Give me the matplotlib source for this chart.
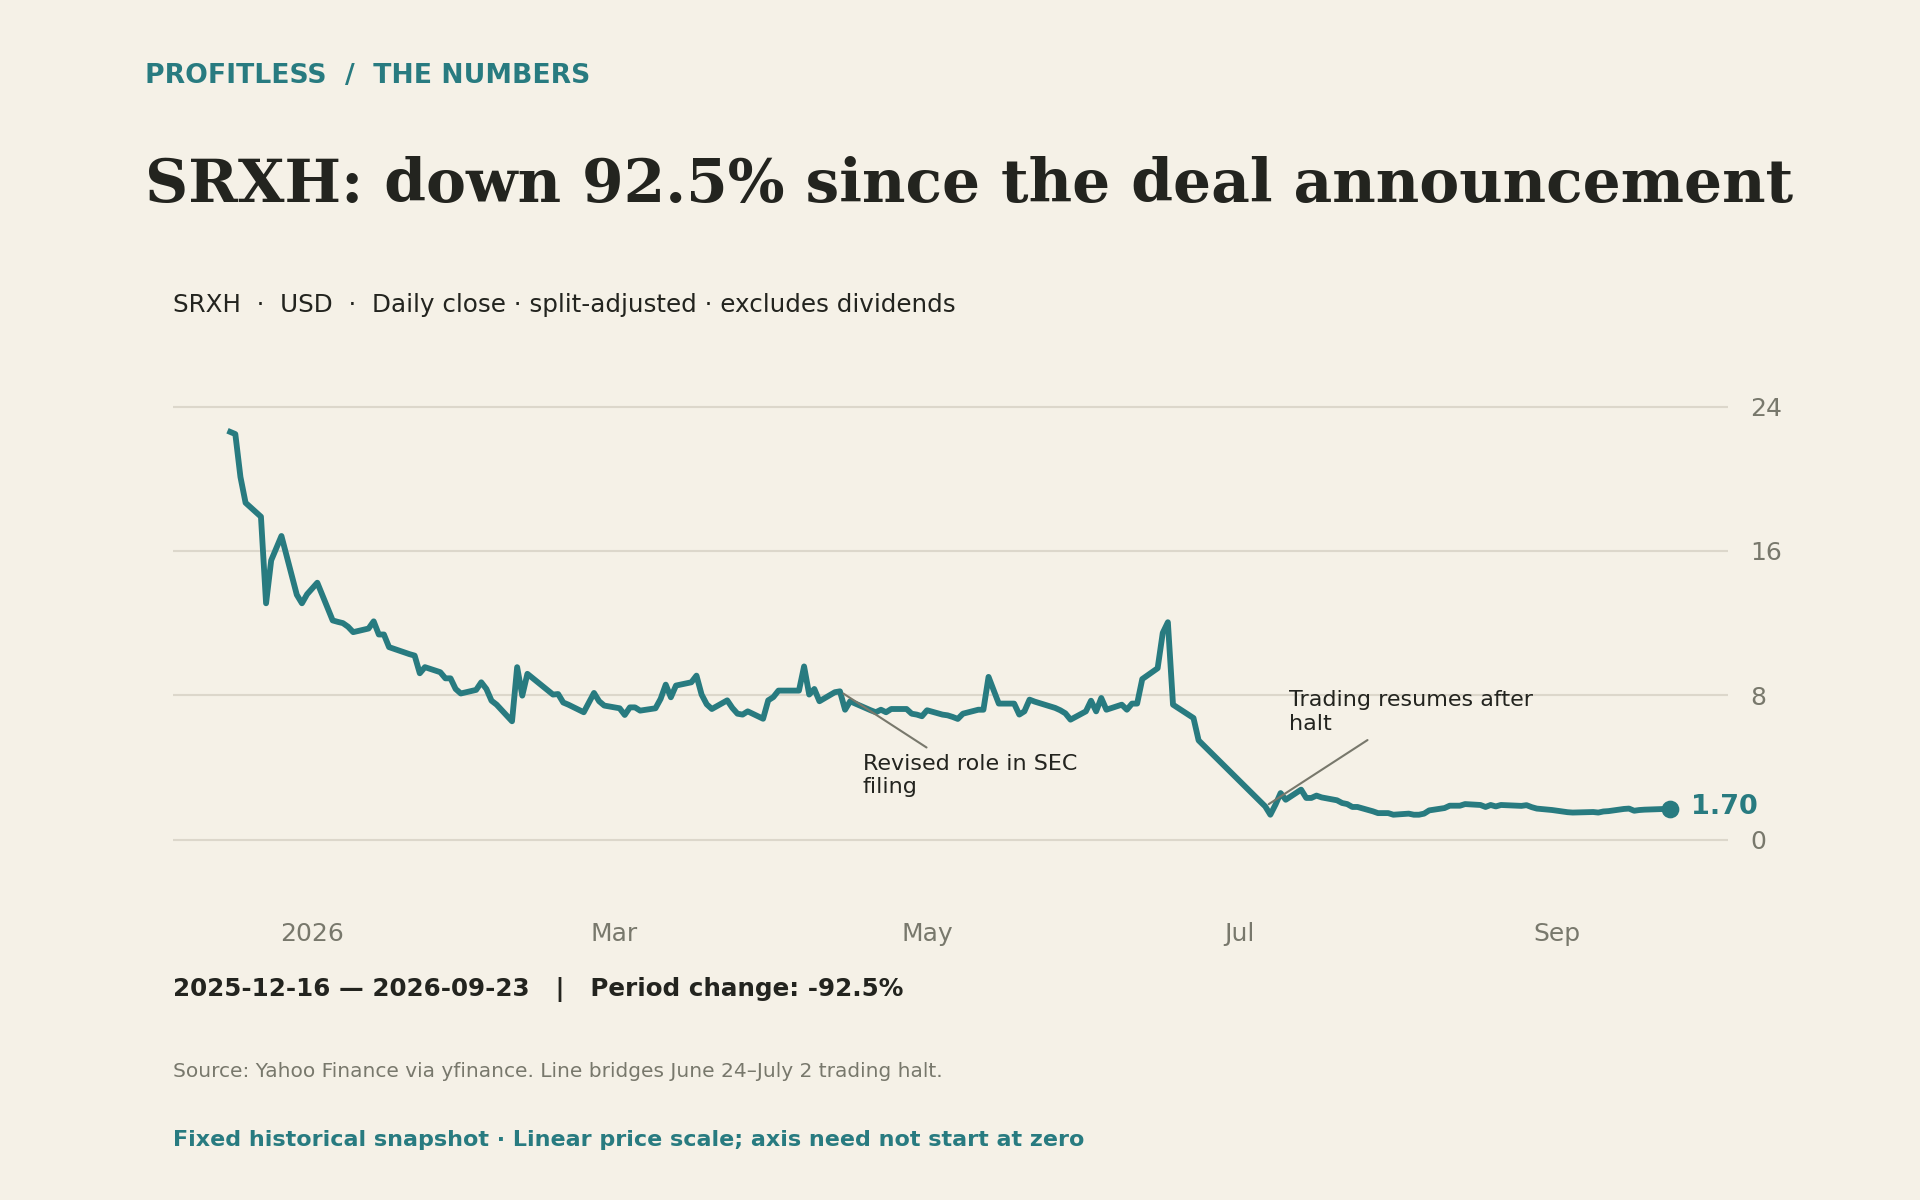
import matplotlib
matplotlib.use('Agg')
import matplotlib.pyplot as plt
import matplotlib.ticker as mticker
import pandas as pd

# colours
BG = '#f5f1e7'
TEAL = '#287b80'
DARK = '#23241f'
GRAY = '#78786c'
GRID = '#dcd7cb'

# trading days per month (holidays and the Jun 24 - Jul 2 halt left out)
dec_days = [16, 17, 18, 19, 22, 23, 24, 26, 29, 30, 31]
jan_days = [2, 5, 6, 7, 8, 9, 12, 13, 14, 15, 16, 20, 21, 22, 23, 26, 27, 28, 29, 30]
feb_days = [2, 3, 4, 5, 6, 9, 10, 11, 12, 13, 17, 18, 19, 20, 23, 24, 25, 26, 27]
mar_days = [2, 3, 4, 5, 6, 9, 10, 11, 12, 13, 16, 17, 18, 19, 20, 23, 24, 25, 26, 27, 30, 31]
apr_days = [1, 2, 6, 7, 8, 9, 10, 13, 14, 15, 16, 17, 20, 21, 22, 23, 24, 27, 28, 29, 30]
may_days = [1, 4, 5, 6, 7, 8, 11, 12, 13, 14, 15, 18, 19, 20, 21, 22, 26, 27, 28, 29]
jun_days = [1, 2, 3, 4, 5, 8, 9, 10, 11, 12, 15, 16, 17, 18, 22, 23]
jul_days = [6, 7, 8, 9, 10, 13, 14, 15, 16, 17, 20, 21, 22, 23, 24, 27, 28, 29, 30, 31]
aug_days = [3, 4, 5, 6, 7, 10, 11, 12, 13, 14, 17, 18, 19, 20, 21, 24, 25, 26, 27, 28, 31]
sep_days = [1, 2, 3, 4, 8, 9, 10, 11, 14, 15, 16, 17, 18, 21, 22, 23]

# daily close, USD
dec_close = [22.6, 22.48, 20.1, 18.67, 17.9, 13.1, 15.48, 16.83, 13.57, 13.1, 13.6]
jan_close = [14.24, 12.15, 12.07, 12.0, 11.8, 11.5, 11.7, 12.1, 11.37, 11.37,
             10.67, 10.28, 10.2, 9.22, 9.56, 9.28, 8.94, 8.94, 8.35, 8.1]
feb_close = [8.3, 8.72, 8.35, 7.7, 7.48, 6.56, 9.56, 7.98, 9.19, 8.96,
             8.04, 8.07, 7.6, 7.48, 7.06, 7.6, 8.13, 7.67, 7.43]
mar_close = [7.28, 6.91, 7.33, 7.33, 7.15, 7.28, 7.8, 8.59, 7.89, 8.54, 8.72,
             9.09, 8.04, 7.5, 7.24, 7.72, 7.3, 6.98, 6.93, 7.11, 6.7, 7.72]
apr_close = [7.9, 8.26, 8.26, 9.6, 8.04, 8.35, 7.67, 8.17, 8.22, 7.2, 7.67,
             7.54, 7.17, 7.06, 7.2, 7.06, 7.24, 7.24, 6.98, 6.93, 6.84]
may_close = [7.17, 6.93, 6.89, 6.8, 6.69, 6.98, 7.2, 7.2, 9.02, 8.28, 7.54,
             7.54, 6.93, 7.11, 7.76, 7.65, 7.3, 7.17, 7.0, 6.65]
jun_close = [7.11, 7.7, 7.11, 7.85, 7.2, 7.48, 7.2, 7.54, 7.54, 8.9, 9.5,
             11.46, 12.05, 7.48, 6.74, 5.5]
jul_close = [1.84, 1.38, 1.94, 2.58, 2.21, 2.77, 2.31, 2.31, 2.44, 2.34, 2.18,
             2.03, 1.97, 1.81, 1.81, 1.57, 1.47, 1.47, 1.47, 1.38]
aug_close = [1.44, 1.38, 1.38, 1.44, 1.62, 1.75, 1.88, 1.88, 1.88, 1.97, 1.92,
             1.81, 1.92, 1.84, 1.92, 1.88, 1.87, 1.91, 1.8, 1.72, 1.64]
sep_close = [1.6, 1.56, 1.52, 1.5, 1.53, 1.5, 1.56, 1.58, 1.7, 1.72, 1.6,
             1.64, 1.66, 1.69, 1.7, 1.70]

months = [(2025, 12, dec_days, dec_close), (2026, 1, jan_days, jan_close),
          (2026, 2, feb_days, feb_close), (2026, 3, mar_days, mar_close),
          (2026, 4, apr_days, apr_close), (2026, 5, may_days, may_close),
          (2026, 6, jun_days, jun_close), (2026, 7, jul_days, jul_close),
          (2026, 8, aug_days, aug_close), (2026, 9, sep_days, sep_close)]

dates = []
prices = []
for year, month, days, closes in months:
    assert len(days) == len(closes), (month, len(days), len(closes))
    for d, c in zip(days, closes):
        dates.append(pd.Timestamp(year, month, d))
        prices.append(c)

tick_dates = [pd.Timestamp(2026, 1, 1), pd.Timestamp(2026, 3, 1), pd.Timestamp(2026, 5, 1),
              pd.Timestamp(2026, 7, 1), pd.Timestamp(2026, 9, 1)]
tick_labels = ['2026', 'Mar', 'May', 'Jul', 'Sep']
y_ticks = [0, 8, 16, 24]

sec_date = pd.Timestamp(2026, 4, 14)
resume_date = pd.Timestamp(2026, 7, 6)

"""### Figure"""

plt.rcParams['font.family'] = 'DejaVu Sans'
fig = plt.figure(figsize=(12.8, 8), dpi=150, facecolor=BG)
ax = fig.add_axes([0.0899, 0.2477, 0.8099, 0.4435])
ax.set_facecolor(BG)

ax.plot(dates, prices, color=TEAL, lw=2.8, zorder=3)
ax.plot(dates[-1], prices[-1], 'o', color=TEAL, markersize=7.5, zorder=4)
ax.annotate(f'{prices[-1]:.2f}', xy=(dates[-1], prices[-1]), xytext=(10, 1),
            textcoords='offset points', va='center', ha='left',
            fontsize=13, fontweight='bold', color=TEAL)

ax.set_ylim(-3.5, 26)
ax.margins(x=0.04)
ax.set_yticks(y_ticks)
ax.yaxis.tick_right()
ax.set_xticks(tick_dates)
ax.xaxis.set_major_formatter(mticker.FixedFormatter(tick_labels))
ax.tick_params(axis='y', length=0, pad=11, labelsize=12, labelcolor=GRAY)
ax.tick_params(axis='x', length=0, pad=9, labelsize=12, labelcolor=GRAY)
ax.grid(axis='y', color=GRID, lw=1.0)
ax.grid(axis='x', visible=False)
ax.set_axisbelow(True)
for s in ax.spines.values():
    s.set_visible(False)

# annotations
sec_val = prices[dates.index(sec_date)]
ax.annotate('Revised role in SEC\nfiling', xy=(sec_date, sec_val),
            xytext=(pd.Timestamp(2026, 4, 18, 10), 4.75), ha='left', va='top',
            fontsize=10.7, color=DARK,
            arrowprops=dict(arrowstyle='-', color=GRAY, lw=1.0))
res_val = prices[dates.index(resume_date)]
ax.annotate('Trading resumes after\nhalt', xy=(resume_date, res_val),
            xytext=(pd.Timestamp(2026, 7, 10, 14), 8.27), ha='left', va='top',
            fontsize=10.7, color=DARK,
            arrowprops=dict(arrowstyle='-', color=GRAY, lw=1.0))

# header text
fig.text(0.0753, 0.9308, 'PROFITLESS  /  THE NUMBERS', fontsize=12.8, fontweight='bold',
         color=TEAL, va='baseline')
fig.text(0.0753, 0.8317, 'SRXH: down 92.5% since the deal announcement', fontsize=28.75,
         fontweight='bold', family='DejaVu Serif', color=DARK, va='baseline')
fig.text(0.0899, 0.7403, 'SRXH  ·  USD  ·  Daily close · split-adjusted · excludes dividends',
         fontsize=11.8, color=DARK, va='baseline')

# footer text
fig.text(0.0899, 0.1703, '2025-12-16 — 2026-09-23   |   Period change: -92.5%',
         fontsize=11.8, fontweight='bold', color=DARK, va='baseline')
fig.text(0.0899, 0.1028,
         'Source: Yahoo Finance via yfinance. Line bridges June 24–July 2 trading halt.',
         fontsize=9.65, color=GRAY, va='baseline')
fig.text(0.0899, 0.0453,
         'Fixed historical snapshot · Linear price scale; axis need not start at zero',
         fontsize=10.66, fontweight='bold', color=TEAL, va='baseline')

fig.savefig('out.png', dpi=150, facecolor=BG)
